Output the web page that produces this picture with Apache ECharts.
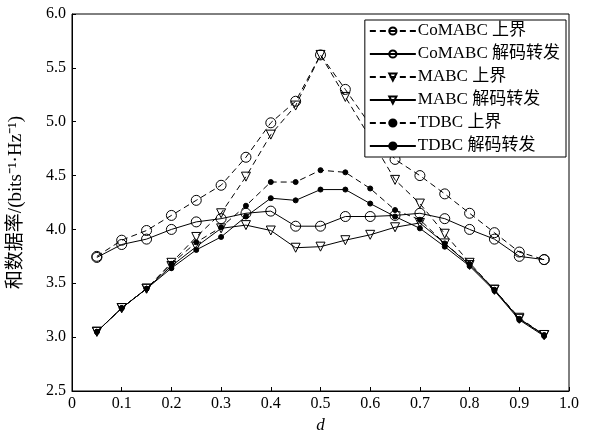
<!DOCTYPE html>
<html><head><meta charset="utf-8">
<script src="https://cdn.jsdelivr.net/npm/echarts@6/dist/echarts.min.js"></script>
<style>html,body{margin:0;padding:0;background:#fff}#c{width:589px;height:432px}</style>
</head><body><div id="c"></div>
<script>
const dValues = [0.05,0.10,0.15,0.20,0.25,0.30,0.35,0.40,0.45,0.50,0.55,0.60,0.65,0.70,0.75,0.80,0.85,0.90,0.95];
const comabcUpper  = [3.75,3.90,3.99,4.13,4.27,4.41,4.67,4.99,5.19,5.62,5.30,4.97,4.65,4.50,4.33,4.15,3.97,3.79,3.72];
const comabcDecode = [3.74,3.86,3.91,4.00,4.07,4.10,4.15,4.17,4.03,4.03,4.12,4.12,4.13,4.15,4.10,4.00,3.91,3.75,3.72];
const mabcUpper    = [3.05,3.27,3.45,3.69,3.93,4.15,4.49,4.88,5.15,5.62,5.23,4.85,4.46,4.24,3.96,3.69,3.44,3.18,3.02];
const mabcDecode   = [3.05,3.27,3.45,3.66,3.84,4.01,4.04,3.99,3.83,3.84,3.90,3.95,4.02,4.06,3.87,3.67,3.44,3.17,3.02];
const tdbcUpper    = [3.05,3.27,3.45,3.68,3.88,4.02,4.22,4.44,4.44,4.55,4.53,4.38,4.18,4.09,3.87,3.68,3.44,3.17,3.02];
const tdbcDecode   = [3.05,3.27,3.45,3.64,3.81,3.93,4.12,4.29,4.27,4.37,4.37,4.24,4.12,4.01,3.84,3.66,3.43,3.16,3.01];
const seriesNames = ['CoMABC 上界','CoMABC 解码转发','MABC 上界','MABC 解码转发','TDBC 上界','TDBC 解码转发'];
const xTickLabels = ['0','0.1','0.2','0.3','0.4','0.5','0.6','0.7','0.8','0.9','1.0'];
const yTickLabels = ['2.5','3.0','3.5','4.0','4.5','5.0','5.5','6.0'];

const FONT = '"Liberation Serif","Noto Sans CJK SC",serif';
const pair = arr => dValues.map((d,i)=>[d,arr[i]]);

function mk(name, data, dashed, symbol, size, filled, rotate){
  return {
    name, type:'line', data: pair(data),
    symbol, symbolSize: size, symbolRotate: rotate||0,
    showAllSymbol:true,
    lineStyle:{color:'#000', width:1, type: dashed ? [6,4] : 'solid'},
    itemStyle:{color: filled ? '#000' : 'rgba(0,0,0,0)', borderColor:'#000', borderWidth:1},
    emphasis:{disabled:true}, animation:false, z: 2
  };
}

const chart = echarts.init(document.getElementById('c'), null, {renderer:'canvas'});
chart.setOption({
  animation:false,
  backgroundColor:'#fff',
  grid:{left:72, right:20, top:14, bottom:41, show:true, borderColor:'#000', borderWidth:1,
        outerBoundsMode:'none', containLabel:false},
  legend:{
    right:23, top:20, orient:'vertical', itemWidth:46, itemHeight:9, itemGap:5,
    backgroundColor:'#fff', borderColor:'#000', borderWidth:1, padding:[2,6,2,4],
    textStyle:{fontFamily:FONT, fontSize:17, lineHeight:18, color:'#000', padding:[0,0,0,-3]},
    data: seriesNames
  },
  xAxis:{
    type:'value', min:0, max:1, interval:0.1,
    name:'d', nameLocation:'middle', nameGap:24,
    nameTextStyle:{fontFamily:FONT, fontSize:17, fontStyle:'italic', color:'#000'},
    axisLine:{show:true, lineStyle:{color:'#000'}},
    axisTick:{show:true, inside:true, length:4, lineStyle:{color:'#000'}},
    splitLine:{show:false},
    axisLabel:{fontFamily:FONT, fontSize:16, color:'#000', margin:5,
      formatter:(v)=>xTickLabels[Math.round(v*10)]}
  },
  yAxis:{
    type:'value', min:2.5, max:6.0, interval:0.5,
    name:'和数据率/(bits⁻¹·Hz⁻¹)', nameLocation:'middle', nameGap:46, nameRotate:90,
    nameTextStyle:{fontFamily:FONT, fontSize:19, color:'#000'},
    axisLine:{show:true, lineStyle:{color:'#000'}},
    axisTick:{show:true, inside:true, length:4, lineStyle:{color:'#000'}},
    splitLine:{show:false},
    axisLabel:{fontFamily:FONT, fontSize:16, color:'#000', margin:6,
      formatter:(v)=>yTickLabels[Math.round((v-2.5)*2)]}
  },
  series:[
    mk(seriesNames[0], comabcUpper, true, 'circle', 10, false),
    mk(seriesNames[1], comabcDecode, false, 'circle', 10, false),
    mk(seriesNames[2], mabcUpper, true, 'triangle', 9, false, 180),
    mk(seriesNames[3], mabcDecode, false, 'triangle', 9, false, 180),
    mk(seriesNames[4], tdbcUpper, true, 'circle', 5, true),
    mk(seriesNames[5], tdbcDecode, false, 'circle', 5, true)
  ]
});
</script></body></html>
